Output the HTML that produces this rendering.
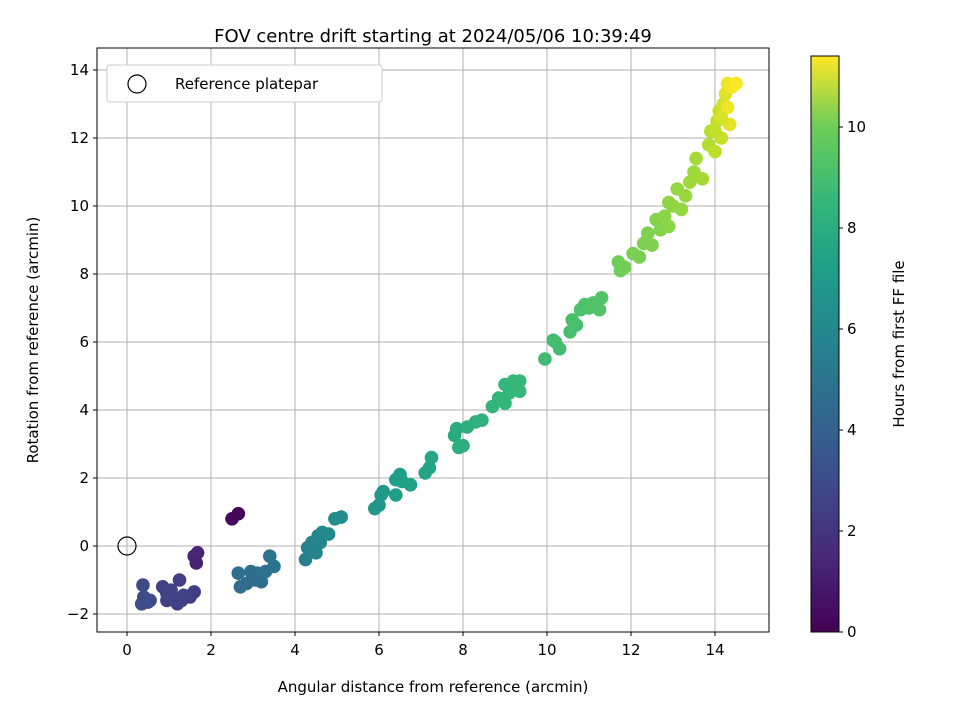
<!DOCTYPE html>
<html><head><meta charset="utf-8"><style>
body{margin:0;background:#fff}
svg text{font-family:"DejaVu Sans","Liberation Sans",sans-serif;fill:#000}
</style></head><body>
<svg id="chart" width="960" height="720" xmlns="http://www.w3.org/2000/svg">
<rect width="960" height="720" fill="#fff"/>
<defs><linearGradient id="vir" x1="0" y1="1" x2="0" y2="0">
<stop offset="0" stop-color="#440154"/><stop offset="0.13" stop-color="#482878"/><stop offset="0.25" stop-color="#3e4989"/><stop offset="0.38" stop-color="#31688e"/><stop offset="0.5" stop-color="#26828e"/><stop offset="0.63" stop-color="#1f9e89"/><stop offset="0.75" stop-color="#35b779"/><stop offset="0.88" stop-color="#6ece58"/><stop offset="1" stop-color="#fde725"/>
</linearGradient><clipPath id="clip"><rect x="97" y="48" width="672" height="584"/></clipPath></defs>
<text x="433" y="42" font-size="18" text-anchor="middle">FOV centre drift starting at 2024/05/06 10:39:49</text>
<g id="grid"></g>
<g id="pts" clip-path="url(#clip)"></g>
<rect x="97" y="48" width="672" height="584" fill="none" stroke="#000" stroke-width="1"/>
<g id="ticks"></g>
<text x="433" y="692" font-size="15" text-anchor="middle">Angular distance from reference (arcmin)</text>
<text transform="translate(38,340) rotate(-90)" font-size="15" text-anchor="middle">Rotation from reference (arcmin)</text>
<g>
<rect x="107" y="65" width="275" height="37" rx="3" fill="#fff" stroke="#ccc"/>
<circle cx="137" cy="84" r="9" fill="none" stroke="#000" stroke-width="1.2"/>
<text x="175" y="89" font-size="15">Reference platepar</text>
</g>
<rect x="811" y="56" width="28" height="576" fill="url(#vir)" stroke="#000" stroke-width="1"/>
<g id="cbticks"></g>
<text transform="translate(904,344) rotate(-90)" font-size="15" text-anchor="middle">Hours from first FF file</text>
</svg>
<script>
const xs=[2.5,2.65,1.6,1.68,1.65,0.38,0.35,0.4,0.5,0.55,0.85,0.95,0.95,1.05,1.1,1.2,1.25,1.3,1.5,1.6,1.35,2.65,2.7,2.85,2.95,3.05,3.1,3.2,3.3,3.4,3.5,3.0,4.25,4.3,4.4,4.5,4.55,4.6,4.65,4.8,4.95,5.1,5.9,6.0,6.05,6.1,6.4,6.5,6.55,6.75,6.4,7.1,7.2,7.25,7.8,7.85,7.9,8.0,8.1,8.3,8.45,8.7,8.85,9.0,9.0,9.1,9.2,9.35,9.35,9.95,10.15,10.2,10.3,10.55,10.6,10.7,10.8,10.9,11.0,11.1,11.3,11.25,11.7,11.75,11.85,12.05,12.2,12.3,12.4,12.5,12.6,12.7,12.8,12.9,13.0,13.1,13.2,13.3,13.5,13.55,13.7,13.85,13.9,14.0,14.05,14.1,14.15,14.2,14.25,14.3,14.4,14.5,14.35,14.3,14.15,14.0,13.4,12.9];
const ys=[0.8,0.95,-0.3,-0.2,-0.5,-1.15,-1.7,-1.5,-1.65,-1.6,-1.2,-1.4,-1.6,-1.3,-1.5,-1.7,-1.0,-1.6,-1.5,-1.35,-1.45,-0.8,-1.2,-1.1,-0.75,-1.0,-0.8,-1.05,-0.75,-0.3,-0.6,-0.9,-0.4,-0.05,0.1,-0.2,0.3,0.1,0.4,0.35,0.8,0.85,1.1,1.2,1.5,1.6,1.95,2.1,1.9,1.8,1.5,2.15,2.3,2.6,3.25,3.45,2.9,2.95,3.5,3.65,3.7,4.1,4.35,4.2,4.75,4.5,4.85,4.55,4.85,5.5,6.05,6.0,5.8,6.3,6.65,6.5,6.95,7.1,7.0,7.15,7.3,6.95,8.35,8.1,8.2,8.6,8.5,8.9,9.2,8.85,9.6,9.3,9.7,9.4,10.0,10.5,9.9,10.3,11.0,11.4,10.8,11.8,12.2,11.6,12.5,12.8,12.0,13.0,13.3,13.6,13.5,13.6,12.4,12.9,12.6,12.2,10.7,10.1];
const hrs=[0.3,0.2,1.2,1.2,1.1,2.6,2.7,2.6,2.6,2.6,2.2,2.2,2.2,2.3,2.3,2.3,2.1,2.2,2.1,2.1,2.2,4.1,4.0,4.0,4.1,4.1,4.2,4.1,4.2,4.3,4.3,4.0,5.0,5.0,5.1,5.1,5.2,5.2,5.3,5.4,5.5,5.5,6.0,6.0,6.1,6.1,6.3,6.3,6.4,6.4,6.3,6.6,6.6,6.7,7.0,7.0,7.1,7.1,7.1,7.2,7.2,7.4,7.4,7.5,7.5,7.5,7.6,7.6,7.6,7.8,7.8,7.9,7.9,8.0,8.0,8.0,8.1,8.1,8.1,8.2,8.2,8.2,8.8,8.8,8.9,9.0,9.0,9.1,9.1,9.1,9.2,9.2,9.3,9.3,9.4,9.5,9.5,9.6,9.7,9.8,9.8,10.0,10.1,10.2,10.3,10.4,10.4,10.6,10.8,11.0,11.2,11.3,10.9,11.1,10.7,10.3,9.7,9.4];
const xTicks=[0,2,4,6,8,10,12,14];
const yTicks=[-2,0,2,4,6,8,10,12,14];
const cTicks=[0,2,4,6,8,10];
const sx=v=>127+v*42, sy=v=>546-v*34, sc=v=>632-v*50.5;
const NS='http://www.w3.org/2000/svg';
function mk(p,tag,attrs){const e=document.createElementNS(NS,tag);for(const k in attrs)e.setAttribute(k,attrs[k]);p.appendChild(e);return e;}
const V=[[68,1,84],[72,40,120],[62,73,137],[49,104,142],[38,130,142],[31,158,137],[53,183,121],[110,206,88],[181,222,43],[253,231,37]];
function vir(t){t=Math.max(0,Math.min(1,t))*(V.length-1);const i=Math.min(V.length-2,Math.floor(t)),f=t-i;const c=V[i].map((a,k)=>Math.round(a+(V[i+1][k]-a)*f));return `rgb(${c})`;}
const g=document.getElementById('grid'),tk=document.getElementById('ticks'),pts=document.getElementById('pts'),cb=document.getElementById('cbticks');
xTicks.forEach(v=>{const x=sx(v);
const l=mk(g,'line',{x1:x,x2:x,y1:48,y2:632,stroke:'#b0b0b0','stroke-width':1});


mk(tk,'line',{x1:x,x2:x,y1:632,y2:636,stroke:'#000'});
const t=mk(tk,'text',{x:x,y:655,'font-size':15,'text-anchor':'middle'});t.textContent=v;

});
yTicks.forEach(v=>{const y=sy(v);
const l=mk(g,'line',{x1:97,x2:769,y1:y,y2:y,stroke:'#b0b0b0','stroke-width':1});


mk(tk,'line',{x1:93,x2:97,y1:y,y2:y,stroke:'#000'});
const t=mk(tk,'text',{x:89,y:y+5,'font-size':15,'text-anchor':'end'});t.textContent=v<0?'\u2212'+(-v):v;

});
xs.forEach((x,i)=>{const c=mk(pts,'circle',{cx:sx(x),cy:sy(ys[i]),r:6.8,fill:vir(hrs[i]/11.35)});

});
const ref=mk(pts,'circle',{cx:sx(0),cy:sy(0),r:9,fill:'none',stroke:'#000','stroke-width':1.2});


cTicks.forEach(v=>{const y=sc(v);
mk(cb,'line',{x1:839,x2:843,y1:y,y2:y,stroke:'#000'});
const t=mk(cb,'text',{x:847,y:y+5,'font-size':15});t.textContent=v;

});
</script>
</body></html>
